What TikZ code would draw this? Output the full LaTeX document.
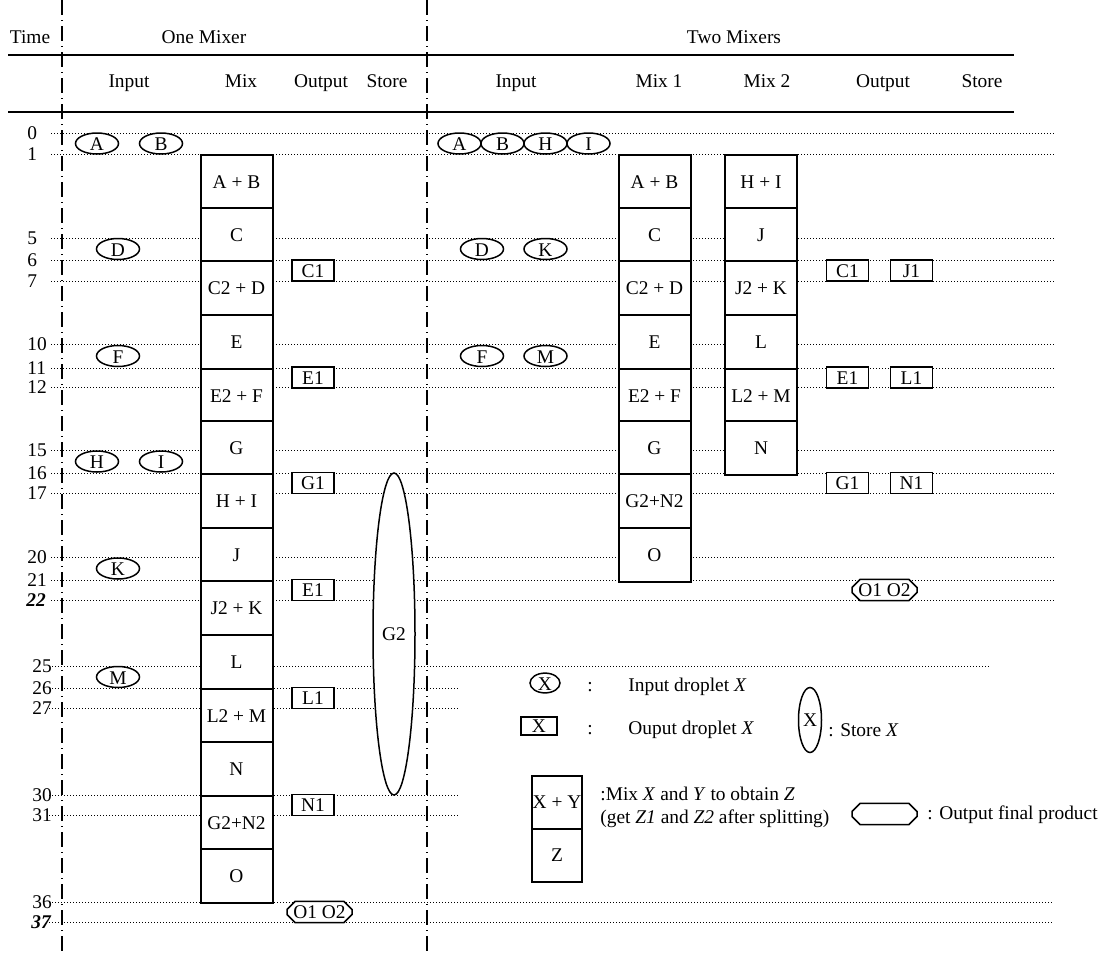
\documentclass[tikz,border=0pt]{standalone}
\usepackage{fontspec}
\setmainfont{Liberation Serif}
\usetikzlibrary{shapes.geometric,shapes.misc}

\begin{document}
\begin{tikzpicture}[
    x=0.5pt,
    y=-0.5pt,
    font=\fontsize{9.7}{11.5}\selectfont,
    row/.style={
        line width=0.5pt,
        dash pattern=on 0.5pt off 1pt
    },
    divider/.style={
        line width=0.75pt,
        dash pattern=on 7.5pt off 2.5pt on 0.5pt off 2.5pt
    },
    rule/.style={line width=1pt},
    head/.style={anchor=base},
    tlab/.style={anchor=west, inner sep=0pt},
    mixbox/.style={
        draw,
        line width=1pt,
        fill=white,
        anchor=north,
        minimum width=36pt,
        minimum height=26.75pt,
        inner sep=0pt
    },
    inp/.style={
        draw,
        ellipse,
        line width=0.75pt,
        fill=white,
        minimum width=21.5pt,
        minimum height=10.5pt,
        inner sep=0pt,
        text height=7pt,
        text depth=-2.3pt
    },
    outp/.style={
        draw,
        line width=0.9pt,
        fill=white,
        minimum width=21pt,
        minimum height=10.5pt,
        inner sep=0pt,
        text height=6.6pt,
        text depth=-0.8pt
    },
    store/.style={
        draw,
        ellipse,
        line width=0.75pt,
        fill=white,
        minimum width=21pt,
        minimum height=161pt,
        inner sep=0pt
    },
    final/.style={
        draw,
        chamfered rectangle,
        chamfered rectangle xsep=2pt,
        chamfered rectangle ysep=2pt,
        line width=0.75pt,
        fill=white,
        minimum width=32.5pt,
        minimum height=10.5pt,
        inner sep=0pt
    },
    keytext/.style={anchor=west, inner sep=0pt, align=left}
]
\useasboundingbox (0,0) rectangle (1099,955);

% header
\node[head] (time) at (30,43) {Time};
\node[head] (onemix) at (204,43) {One Mixer};
\node[head] (twomix) at (734,43) {Two Mixers};
\node[head] (hin) at (129,87) {Input};
\node[head] (hmix) at (241,87) {Mix};
\node[head] (hout) at (321,87) {Output};
\node[head] (hsto) at (387,87) {Store};
\node[head] (hin2) at (516,87) {Input};
\node[head] (hmixa) at (659,87) {Mix 1};
\node[head] (hmixb) at (767,87) {Mix 2};
\node[head] (hout2) at (883,87) {Output};
\node[head] (hsto2) at (982,87) {Store};
\draw[rule] (8,55) -- (1014,55);
\draw[rule] (8,112) -- (1014,112);

% time steps
\node[tlab] (t0) at (27,133) {0};
\node[tlab] (t1) at (27,154) {1};
\node[tlab] (t5) at (27,238) {5};
\node[tlab] (t6) at (27,260) {6};
\node[tlab] (t7) at (27,281) {7};
\node[tlab] (t10) at (27,344) {10};
\node[tlab] (t11) at (27,368) {11};
\node[tlab] (t12) at (27,387) {12};
\node[tlab] (t15) at (27,450) {15};
\node[tlab] (t16) at (27,473) {16};
\node[tlab] (t17) at (27,493) {17};
\node[tlab] (t20) at (27,557) {20};
\node[tlab] (t21) at (27,580) {21};
\node[tlab] (t22) at (26,600) {\textbf{\textit{22}}};
\node[tlab] (t25) at (32,666) {25};
\node[tlab] (t26) at (32,688) {26};
\node[tlab] (t27) at (32,708) {27};
\node[tlab] (t30) at (32,795) {30};
\node[tlab] (t31) at (32,815) {31};
\node[tlab] (t36) at (32,902) {36};
\node[tlab] (t37) at (31,922) {\textbf{\textit{37}}};

\coordinate (lft) at (51,0);
\coordinate (lftb) at (49,0);
\coordinate (rgt) at (1054,0);
\coordinate (rgtb) at (990,0);
\coordinate (half) at (460,0);

\draw[row] (lft |- t0) -- (rgt |- t0);
\draw[row] (lft |- t1) -- (rgt |- t1);
\draw[row] (lft |- t5) -- (rgt |- t5);
\draw[row] (lft |- t6) -- (rgt |- t6);
\draw[row] (lft |- t7) -- (rgt |- t7);
\draw[row] (lft |- t10) -- (rgt |- t10);
\draw[row] (lft |- t11) -- (rgt |- t11);
\draw[row] (lft |- t12) -- (rgt |- t12);
\draw[row] (lft |- t15) -- (rgt |- t15);
\draw[row] (lft |- t16) -- (rgt |- t16);
\draw[row] (lft |- t17) -- (rgt |- t17);
\draw[row] (lft |- t20) -- (rgt |- t20);
\draw[row] (lft |- t21) -- (rgt |- t21);
\draw[row] (lft |- t22) -- (rgt |- t22);
\draw[row] (lftb |- t25) -- (rgtb |- t25);
\draw[row] (lftb |- t26) -- (half |- t26);
\draw[row] (lftb |- t27) -- (half |- t27);
\draw[row] (lftb |- t30) -- (half |- t30);
\draw[row] (lftb |- t31) -- (half |- t31);
\draw[row] (lftb |- t36) -- (rgt |- t36);
\draw[row] (lftb |- t37) -- (rgt |- t37);

\draw[divider] (62,0) -- (62,955);
\draw[divider] (427,0) -- (427,955);

% one mixer
\node[inp] (inA) at (97,143.5) {A};
\node[inp] (inB) at (161,143.5) {B};
\node[inp] (inD) at (118,249) {D};
\node[inp] (inF) at (118,356) {F};
\node[inp] (inH) at (97,461.5) {H};
\node[inp] (inI) at (161,461.5) {I};
\node[inp] (inK) at (118,568.5) {K};
\node[inp] (inM) at (118,677) {M};

\node[mixbox] (mAB) at (236.5,154) {A + B};
\node[mixbox] (mC) at (236.5,207) {C};
\node[mixbox] (mCD) at (236.5,260) {C2 + D};
\node[mixbox] (mE) at (236.5,314) {E};
\node[mixbox] (mEF) at (236.5,368) {E2 + F};
\node[mixbox] (mG) at (236.5,420) {G};
\node[mixbox] (mHI) at (236.5,473) {H + I};
\node[mixbox] (mJ) at (236.5,527) {J};
\node[mixbox] (mJK) at (236.5,580) {J2 + K};
\node[mixbox] (mL) at (236.5,634) {L};
\node[mixbox] (mLM) at (236.5,688) {L2 + M};
\node[mixbox] (mN) at (236.5,741) {N};
\node[mixbox] (mGN) at (236.5,795) {G2+N2};
\node[mixbox] (mO) at (236.5,848) {O};

\node[outp] (outC) at (313,270.5) {C1};
\node[outp] (outE) at (313,377.5) {E1};
\node[outp] (outG) at (313,483) {G1};
\node[outp] (outEb) at (313,590) {E1};
\node[outp] (outL) at (313,698) {L1};
\node[outp] (outN) at (313,805) {N1};
\node[final] (outO) at (319.5,912) {O1 O2};

\node[store] (stoG) at (394,634) {G2};

% two mixers
\node[inp] (inA2) at (459.5,143.5) {A};
\node[inp] (inB2) at (502.5,143.5) {B};
\node[inp] (inH2) at (545.5,143.5) {H};
\node[inp] (inI2) at (588.5,143.5) {I};
\node[inp] (inD2) at (482,249) {D};
\node[inp] (inK2) at (545.5,249) {K};
\node[inp] (inF2) at (482,356) {F};
\node[inp] (inM2) at (545.5,356) {M};

\node[mixbox] (mAB2) at (654.5,154) {A + B};
\node[mixbox] (mC2) at (654.5,207) {C};
\node[mixbox] (mCD2) at (654.5,260) {C2 + D};
\node[mixbox] (mE2) at (654.5,314) {E};
\node[mixbox] (mEF2) at (654.5,368) {E2 + F};
\node[mixbox] (mG2) at (654.5,420) {G};
\node[mixbox] (mGN2) at (654.5,473) {G2+N2};
\node[mixbox] (mO2) at (654.5,527) {O};

\node[mixbox] (mHI2) at (761,154) {H + I};
\node[mixbox] (mJ2) at (761,207) {J};
\node[mixbox] (mJK2) at (761,260) {J2 + K};
\node[mixbox] (mL2) at (761,314) {L};
\node[mixbox] (mLM2) at (761,368) {L2 + M};
\node[mixbox] (mN2) at (761,420) {N};

\node[outp] (outC2) at (847.5,270.5) {C1};
\node[outp] (outJ2) at (911.5,270.5) {J1};
\node[outp] (outE2) at (847.5,377.5) {E1};
\node[outp] (outL2) at (911.5,377.5) {L1};
\node[outp] (outG2) at (847.5,483) {G1};
\node[outp] (outN2) at (911.5,483) {N1};
\node[final] (outO2) at (884.5,590) {O1 O2};

% legend
\node[inp, minimum width=15pt, minimum height=8pt] (keyin) at (545,683) {X};
\node (keycola) at (590,687) {:};
\node[keytext] (keyintxt) at (628,687) {Input droplet \textit{X}};
\node[outp, minimum width=18pt, minimum height=9pt] (keyout) at (539,726) {X};
\node (keycolb) at (590,730) {:};
\node[keytext] (keyouttxt) at (628,730) {Ouput droplet \textit{X}};
\node[store, minimum width=11.5pt, minimum height=32.5pt] (keysto) at (810,720) {X};
\node[keytext] (keystotxt) at (828,730) {: Store \textit{X}};
\node[mixbox, minimum width=25pt, minimum height=26.5pt] (keymixa) at (557,775) {X + Y};
\node[mixbox, minimum width=25pt, minimum height=26.5pt] (keymixb) at (557,828) {Z};
\node[keytext] (keymixtxt) at (600,807) {:Mix \textit{X} and \textit{Y} to obtain \textit{Z}\\
(get \textit{Z1} and \textit{Z2} after splitting)};
\node[final] (keyfin) at (884.5,814) {\phantom{O1 O2}};
\node[keytext] (keyfintxt) at (927,815) {: Output final product};

\end{tikzpicture}
\end{document}
